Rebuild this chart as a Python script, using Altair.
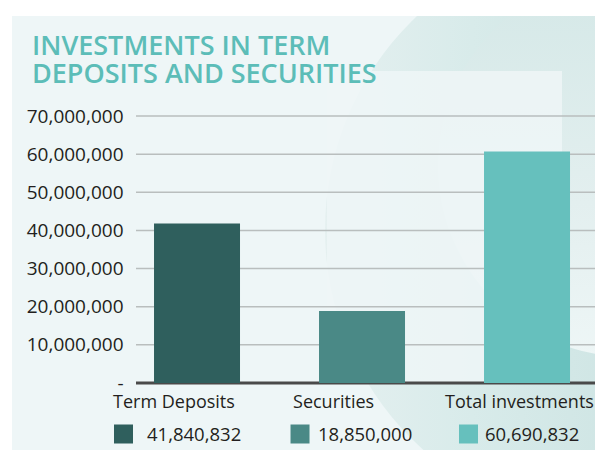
import altair as alt
import pandas as pd

categories = ["Term Deposits", "Securities", "Total investments"]
values = [41840832, 18850000, 60690832]
bar_colors = ["#2F5F5D", "#4A8986", "#66C0BD"]
y_ticks = [0, 10000000, 20000000, 30000000, 40000000, 50000000, 60000000, 70000000]
title_lines = ["INVESTMENTS IN TERM", "DEPOSITS AND SECURITIES"]

W, H = 459, 267
FONT = "Open Sans"

df = pd.DataFrame({"category": categories, "value": values})
grid_df = pd.DataFrame({"tick": y_ticks})

x_scale = alt.Scale(domain=categories, paddingInner=0.4788, paddingOuter=0.1303, align=0.419)
y_scale = alt.Scale(domain=[0, 70000000], nice=False)
color_scale = alt.Scale(domain=categories, range=bar_colors)

y_axis = alt.Axis(values=y_ticks, grid=False, ticks=False, domain=False, labelPadding=13,
                  labelFont=FONT, labelFontSize=19, labelColor="#231F20", zindex=1,
                  labelOverlap=False, labelBound=False,
                  labelExpr="datum.value == 0 ? '-' : datum.label", title=None)

one = pd.DataFrame({"k": [0]})

# background panel and decorations
bg = alt.Chart(one).mark_rect(color="#EEF6F7").encode(
    x=alt.value(-124), x2=alt.value(W + 20), y=alt.value(-100), y2=alt.value(H + 80)
)
outer = alt.Chart(one).mark_arc(
    radius=295, theta=0, theta2=6.2832,
    color=alt.Gradient(gradient="linear", x1=0, y1=0, x2=1, y2=0,
                       stops=[alt.GradientStop(color="#E5F0F0", offset=0),
                              alt.GradientStop(color="#D8EBEA", offset=0.25),
                              alt.GradientStop(color="#CFE5E4", offset=0.5),
                              alt.GradientStop(color="#CFE5E4", offset=1)])
).encode(x=alt.value(484), y=alt.value(114))
inner = alt.Chart(one).mark_arc(
    radius=192, theta=0, theta2=6.2832,
    color=alt.Gradient(gradient="linear", x1=0, y1=0, x2=0, y2=1,
                       stops=[alt.GradientStop(color="#D4E8E7", offset=0),
                              alt.GradientStop(color="#E3EFEF", offset=0.6),
                              alt.GradientStop(color="#EEF6F6", offset=1)])
).encode(x=alt.value(494), y=alt.value(49))
panel = alt.Chart(one).mark_rect(color="#EEF6F7", opacity=0.85).encode(
    x=alt.value(191), x2=alt.value(426), y=alt.value(-45), y2=alt.value(H)
)
top_white = alt.Chart(one).mark_rect(color="white").encode(
    x=alt.value(-140), x2=alt.value(W + 20), y=alt.value(-120), y2=alt.value(-100)
)

grid = alt.Chart(grid_df).transform_filter(alt.datum.tick > 0).mark_rule(
    color="#B9BEBE", strokeWidth=1.5
).encode(y=alt.Y("tick:Q", scale=y_scale, axis=y_axis))

bars = alt.Chart(df).mark_bar().encode(
    x=alt.X("category:N", scale=x_scale, axis=None, sort=categories),
    y=alt.Y("value:Q", scale=y_scale, axis=y_axis),
    color=alt.Color("category:N", scale=color_scale, legend=None),
)

baseline = alt.Chart(one).mark_rule(color="#4A4A4A", strokeWidth=3).encode(
    y=alt.Y("k:Q", scale=y_scale, axis=y_axis)
)

title = alt.Chart(one).mark_text(
    text=title_lines, align="left", baseline="alphabetic", font=FONT, fontSize=27,
    fontWeight=600, color="#5CBDB8", lineHeight=28
).encode(x=alt.value(-104), y=alt.value(-61))

label_dx = {"Term Deposits": -84, "Securities": -69, "Total investments": -82}
square_dx = {"Term Deposits": -30.5, "Securities": -19, "Total investments": -15.5}
value_dx = {"Term Deposits": -50, "Securities": -44, "Total investments": -42}

legend_layers = []
for cat in categories:
    base = alt.Chart(df).transform_filter(alt.datum.category == cat)
    legend_layers.append(
        base.mark_text(align="left", baseline="middle", font=FONT, fontSize=18,
                       color="#231F20", dx=label_dx[cat]).encode(
            x=alt.X("category:N", scale=x_scale, axis=None, sort=categories),
            y=alt.value(287), text="category:N")
    )
    legend_layers.append(
        base.mark_square(size=361, opacity=1, filled=True).encode(
            x=alt.X("category:N", scale=x_scale, axis=None, sort=categories),
            xOffset=alt.value(square_dx[cat]),
            y=alt.value(318),
            color=alt.Color("category:N", scale=color_scale, legend=None))
    )
    legend_layers.append(
        base.mark_text(align="left", baseline="middle", font=FONT, fontSize=18.5,
                       color="#231F20", dx=value_dx[cat]).encode(
            x=alt.X("category:N", scale=x_scale, axis=None, sort=categories),
            y=alt.value(319), text=alt.Text("value:Q", format=","))
    )

chart = alt.layer(bg, outer, inner, panel, top_white, grid, baseline, bars, title,
                  *legend_layers).properties(
    width=W, height=H,
    padding={"left": 128, "top": 108, "right": 0, "bottom": 67},
    autosize=alt.AutoSizeParams(type="none"),
    background="white",
).configure_view(stroke=None)

chart.save("out.html", embed_options={"renderer": "svg", "actions": False})
